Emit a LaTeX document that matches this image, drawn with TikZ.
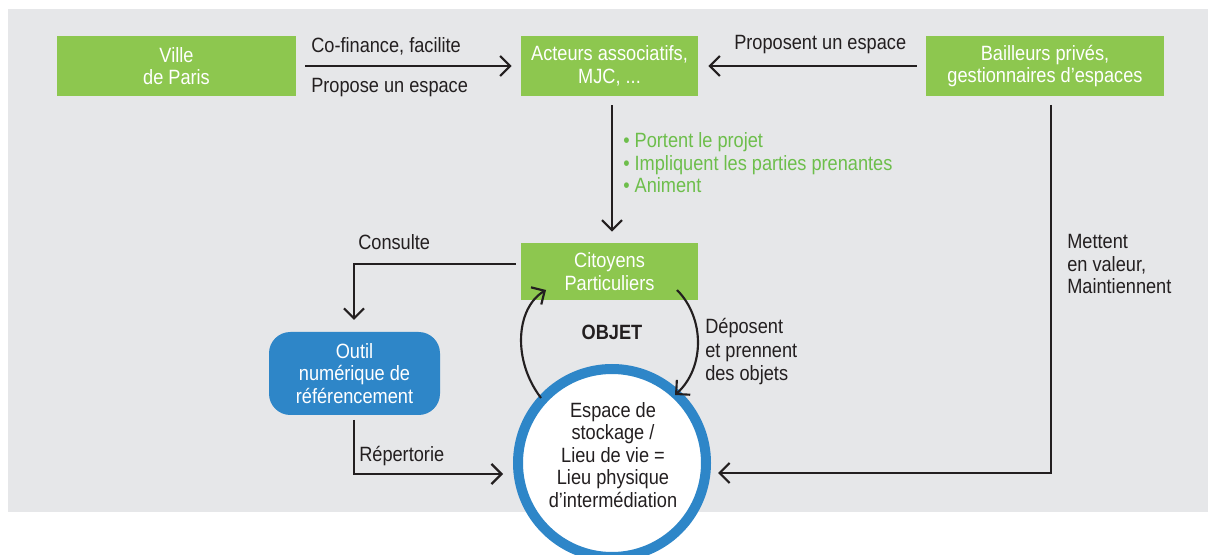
\documentclass[tikz,border=0pt]{standalone}
\usepackage{fontspec}
\setmainfont{Liberation Sans}[FakeStretch=0.88]
\usetikzlibrary{arrows.meta}
\definecolor{vert}{HTML}{8DC74F}
\definecolor{verttexte}{HTML}{6DBE4B}
\definecolor{bleu}{HTML}{2E86C8}
\definecolor{fond}{HTML}{E6E7E9}
\definecolor{encre}{HTML}{231F20}
\tikzset{
	boite/.style={fill=vert, text=white, align=center, inner sep=0pt},
	fleche/.style={draw=encre, line width=1.6pt, -{Straight Barb[length=7.5pt,width=15pt,line width=1.6pt]}},
	trait/.style={draw=encre, line width=1.6pt},
	etiq/.style={text=encre, align=left, inner sep=0pt, anchor=west}
}
\begin{document}
\begin{tikzpicture}[x=0.75pt, y=-0.75pt, font=\fontsize{15.5}{16.8}\selectfont]
		\useasboundingbox (0,0) rectangle (1208,555);
		\fill[fond] (8,9) rectangle (1208,512);
		\node[boite, minimum width=179.25pt, minimum height=45pt] (ville) at (176.5,66) {Ville\\de Paris};
		\node[boite, minimum width=132.75pt, minimum height=45pt] (acteurs) at (609.5,66) {Acteurs associatifs,\\MJC, ...};
		\node[boite, minimum width=178.5pt, minimum height=45pt] (bailleurs) at (1045,66) {Bailleurs privés,\\gestionnaires d’espaces};
		\node[boite, minimum width=132.75pt, minimum height=42.75pt] (citoyens) at (609.5,271.5) {Citoyens\\Particuliers};
		\node[fill=bleu, text=white, align=center, rounded corners=16pt, minimum width=128.25pt, minimum height=62.25pt, inner sep=0pt] (outil) at (354.5,373.5) {Outil\\numérique de\\référencement};
		\node[circle, draw=bleu, line width=7.5pt, fill=white, minimum size=141pt, inner sep=0pt] (espace) at (612,463) {};
		\node[text=encre, align=center, font=\fontsize{15.5}{16.9}\selectfont] (espacetexte) at (613,455) {Espace de\\stockage /\\Lieu de vie =\\Lieu physique\\d’intermédiation};
		\coordinate (consultecoin) at (354,264);
		\coordinate (repertoriecoin) at (354,474);
		\coordinate (bailleurscoin) at (1051,473);
		\coordinate (objetdepart) at (541,398);
		\coordinate (objetfin) at (546,290);
		\coordinate (deposedepart) at (677,290);
		\coordinate (deposefin) at (675,395);
		\draw[fleche, shorten <=6.75pt, shorten >=6.75pt] (ville.east) -- (acteurs.west);
		\draw[fleche, shorten <=6.75pt, shorten >=7.5pt] (bailleurs.west) -- (acteurs.west -| acteurs.east);
		\draw[fleche, shorten <=6.75pt, shorten >=8.25pt] (acteurs.south -| 612,0) -- (citoyens.north -| 612,0);
		\draw[fleche, shorten <=3.75pt] (citoyens.west |- consultecoin) -- (consultecoin) -- (354,320);
		\draw[fleche] (354,420) -- (repertoriecoin) -- (503,474);
		\draw[fleche] (1051,105) -- (bailleurscoin) -- (718,473);
		\draw[fleche] (objetdepart) .. controls (512,360) and (516,308) .. (objetfin);
		\draw[fleche] (deposedepart) .. controls (705,318) and (705,368) .. (deposefin);
		\node[etiq] (cofinance) at (311,46) {Co-finance, facilite};
		\node[etiq] (propose) at (311,88) {Propose un espace};
		\node[etiq] (proposent) at (734,45) {Proposent un espace};
		\node[etiq, text=verttexte, font=\fontsize{15.5}{16.9}\selectfont] (missions) at (623,163) {• Portent le projet\\• Impliquent les parties prenantes\\• Animent};
		\node[etiq] (consulte) at (358,242) {Consulte};
		\node[etiq] (mettent) at (1067,264) {Mettent\\en valeur,\\Maintiennent};
		\node[text=encre, font=\fontsize{15.5}{16.8}\selectfont\bfseries] (objet) at (612,332) {OBJET};
		\node[etiq, font=\fontsize{15.5}{17.6}\selectfont] (deposent) at (705,352) {Déposent\\et prennent\\des objets};
		\node[etiq] (repertorie) at (359,456) {Répertorie};
\end{tikzpicture}
\end{document}
